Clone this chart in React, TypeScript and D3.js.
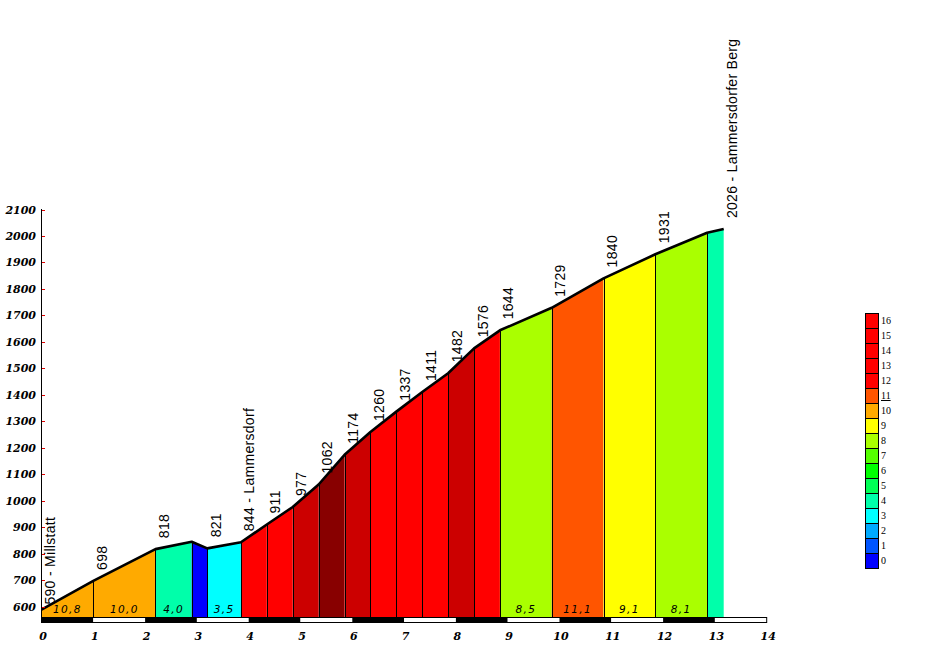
import React from "react";
import * as d3 from "d3";

const distances = [0, 1.0, 2.2, 2.9, 3.2, 3.85, 4.35, 4.85, 5.35, 5.85, 6.35, 6.85, 7.35, 7.85, 8.35, 8.85, 9.85, 10.85, 11.85, 12.85, 13.17];
const elevations = [590, 698, 818, 846, 821, 844, 911, 977, 1062, 1174, 1260, 1337, 1411, 1482, 1576, 1644, 1729, 1840, 1931, 2012, 2026];
const pointLabels = [
  "590 - Millstatt", "698", "818", "", "821", "844 - Lammersdorf", "911", "977", "1062", "1174",
  "1260", "1337", "1411", "1482", "1576", "1644", "1729", "1840", "1931", "", "2026 - Lammersdorfer Berg",
];
const gradientLabels = ["10,8", "10,0", "4,0", "", "3,5", "", "", "", "", "", "", "", "", "", "", "8,5", "11,1", "9,1", "8,1", ""];
const yTicks = [600, 700, 800, 900, 1000, 1100, 1200, 1300, 1400, 1500, 1600, 1700, 1800, 1900, 2000, 2100];
const xTicks = [0, 1, 2, 3, 4, 5, 6, 7, 8, 9, 10, 11, 12, 13, 14];
const legendLabels = ["16", "15", "14", "13", "12", "11", "10", "9", "8", "7", "6", "5", "4", "3", "2", "1", "0"];
const legendColors = ["#ff0000", "#ff0000", "#ff0000", "#ff0000", "#ff0000", "#ff5500", "#ffaa00", "#ffff00", "#aaff00", "#55ff00", "#00ff00", "#00ff55", "#00ffaa", "#00ffff", "#00aaff", "#0055ff", "#0000ff"];

const gradeColor = d3
  .scaleThreshold<number, string>()
  .domain([0, 1, 2, 3, 4, 5, 6, 7, 8, 9, 10, 11, 12, 16, 20])
  .range(["#0000ff", "#0000ff", "#0055ff", "#00aaff", "#00ffff", "#00ffaa", "#00ff55", "#00ff00", "#55ff00", "#aaff00", "#ffff00", "#ffaa00", "#ff5500", "#ff0000", "#cc0000", "#880000"]);

export default function App() {
  const x = d3.scaleLinear().domain([0, 14]).range([41.5, 766.7]);
  const y = d3.scaleLinear().domain([560, 2100]).range([617.5, 209.5]);
  const base = y(560);

  const segs = distances.slice(0, -1).map((d0, i) => {
    const d1 = distances[i + 1];
    const e0 = elevations[i];
    const e1 = elevations[i + 1];
    const g = Math.round(((e1 - e0) / (d1 - d0) / 10) * 10) / 10;
    return { d0, d1, e0, e1, g, label: gradientLabels[i] };
  });

  const line = d3
    .line<number>()
    .x((_, i) => x(distances[i]))
    .y((e) => y(e));

  const axisFont = "'DejaVu Serif', serif";
  const labelFont = "'Liberation Sans', Arial, sans-serif";

  const legX = 865;
  const legY = 313;
  const cell = 15;

  return (
    <svg
      width={951}
      height={656}
      style={{ position: "absolute", left: 0, top: 0, background: "#fff" }}
    >
      <rect x={0} y={0} width={951} height={656} fill="#fff" />
      {segs.map((s, i) => (
        <path
          key={"s" + i}
          d={`M${x(s.d0)},${base}L${x(s.d0)},${y(s.e0)}L${x(s.d1)},${y(s.e1)}L${x(s.d1)},${base}Z`}
          fill={gradeColor(s.g)}
        />
      ))}
      {distances.slice(1, -1).map((d, i) => (
        <line
          key={"v" + i}
          x1={Math.round(x(d)) + 0.5}
          x2={Math.round(x(d)) + 0.5}
          y1={base}
          y2={y(elevations[i + 1])}
          stroke="#000"
          strokeWidth={1}
        />
      ))}
      <path d={line(elevations) || ""} fill="none" stroke="#000" strokeWidth={2.6} strokeLinejoin="round" />
      {segs.map((s, i) =>
        s.label ? (
          <text
            key={"g" + i}
            x={(x(s.d0) + x(s.d1)) / 2}
            y={613}
            textAnchor="middle"
            fontFamily="'DejaVu Sans', sans-serif"
            fontStyle="italic"
            fontSize={10.5}
            letterSpacing={1.4}
            fill="#000"
          >
            {s.label}
          </text>
        ) : null
      )}
      {pointLabels.map((lab, i) => {
        if (!lab) return null;
        const px = x(distances[i]) + 13.5;
        const py = y(elevations[i]) - (i === 0 ? 5 : 11);
        return (
          <text
            key={"p" + i}
            transform={`translate(${px},${py}) rotate(-90)`}
            fontFamily={labelFont}
            fontSize={14}
            letterSpacing={0.3}
            fill="#000"
          >
            {lab}
          </text>
        );
      })}
      {xTicks.slice(0, -1).map((k) => (
        <rect
          key={"k" + k}
          x={x(k)}
          y={617.5}
          width={x(k + 1) - x(k)}
          height={5}
          fill={k % 2 === 0 ? "#000" : "#fff"}
        />
      ))}
      <rect x={x(0)} y={617.5} width={x(14) - x(0)} height={5} fill="none" stroke="#000" strokeWidth={1} />
      <line x1={41.5} x2={41.5} y1={209} y2={618} stroke="#000" strokeWidth={1} />
      {yTicks.map((t) => (
        <g key={"y" + t}>
          <line x1={42} x2={45} y1={Math.round(y(t)) + 0.5} y2={Math.round(y(t)) + 0.5} stroke="#e00000" strokeWidth={1} />
          <text
            x={36}
            y={y(t) + 4}
            textAnchor="end"
            fontFamily={axisFont}
            fontWeight="bold"
            fontStyle="italic"
            fontSize={11}
            fill="#000"
          >
            {t}
          </text>
        </g>
      ))}
      {xTicks.map((t) => (
        <text
          key={"x" + t}
          x={x(t) + 1.5}
          y={640}
          textAnchor="middle"
          fontFamily={axisFont}
          fontWeight="bold"
          fontStyle="italic"
          fontSize={11}
          fill="#000"
        >
          {t}
        </text>
      ))}
      {legendLabels.map((lab, i) => (
        <g key={"l" + i}>
          <rect
            x={legX + 0.5}
            y={legY + i * cell + 0.5}
            width={13}
            height={cell}
            fill={legendColors[i]}
            stroke="#000"
            strokeWidth={1}
          />
          <text
            x={legX + 16}
            y={legY + i * cell + 11}
            fontFamily="'Liberation Serif', serif"
            fontSize={10}
            fill="#000"
            textDecoration={lab === "11" ? "underline" : undefined}
          >
            {lab}
          </text>
        </g>
      ))}
    </svg>
  );
}
